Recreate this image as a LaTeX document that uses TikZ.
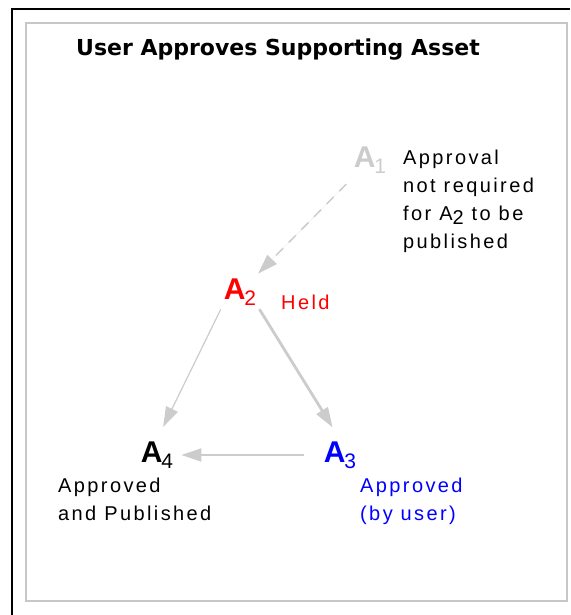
\documentclass[tikz,border=0pt]{standalone}
\usepackage{fontspec}
\setmainfont{Liberation Sans}
\newfontfamily\titlefont{DejaVu Sans}
\usepackage{tikz}
\usetikzlibrary{arrows.meta, calc}

\newcommand{\assetsub}[1]{\kern-1pt\raisebox{-6pt}{\fontsize{21}{21}\selectfont\mdseries #1}}

\begin{document}
\begin{tikzpicture}[x=1pt, y=-1pt,
                    asset/.style={font=\fontsize{30}{30}\selectfont\bfseries, inner sep=2pt},
                    note/.style={font=\fontsize{20}{28}\selectfont\addfontfeatures{LetterSpace=12}, align=left, inner sep=0pt, anchor=north west},
                    link/.style={-{Triangle[length=20pt, width=13pt]}, draw=black!20, fill=black!20, line width=1.5pt, shorten <=2pt, shorten >=14pt}]

    \useasboundingbox (0,0) rectangle (570,615);

    % frames
    \draw[line width=2.5pt] (12,615) -- (12,9) -- (570,9);
    \draw[black!22, line width=2.5pt] (26,23) rectangle (567,601);

    \node[font=\titlefont\fontsize{22}{22}\selectfont\bfseries] (title) at (278,50) {User Approves Supporting Asset};

    % assets
    \node[asset, text=black!20] (a1) at (370,160) {A\assetsub{1}};
    \node[asset, text=red]      (a2) at (240,292) {A\assetsub{2}};
    \node[asset, text=blue]     (a3) at (340,455) {A\assetsub{3}};
    \node[asset, text=black]    (a4) at (157,455) {A\assetsub{4}};

    \node[note] (n1) at (403,150) {Approval\\not required\\for A\raisebox{-4pt}{2} to be\\published};
    \node[note, text=red, anchor=west] (n2) at (281,302) {Held};
    \node[note, text=blue] (n3) at (360,478) {Approved\\(by user)};
    \node[note] (n4) at (58,478) {Approved\\and Published};

    % transitions
    \draw[link, dash pattern=on 10pt off 8pt, shorten <=12pt, shorten >=4pt] (a1) -- (a2);
    \draw[link, line width=1.2pt] (a2.south west) -- (a4.north);
    \draw[link, line width=2.8pt] (a2.south east) -- (a3.north);
    \draw[link, line width=2pt, shorten <=18pt, shorten >=6pt] (a3.west) -- (a4.east);
\end{tikzpicture}
\end{document}
